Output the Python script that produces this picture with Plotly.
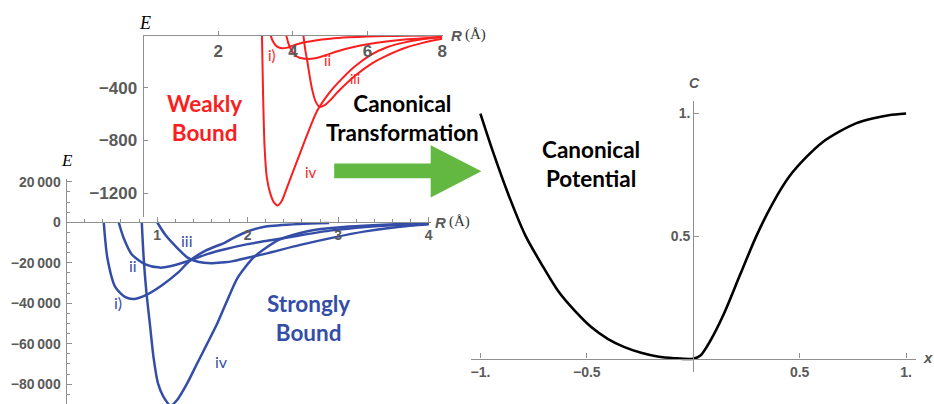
import plotly.graph_objects as go

W, H = 934, 404

# ---------------- data ----------------
# Weakly bound potentials (red): R in Å, E
red_i_R = [3.40, 3.46, 3.53, 3.61, 3.72, 3.85, 4.00, 4.25, 4.60, 5.00, 5.50, 6.00, 6.50, 7.00, 8.00]
red_i_E = [0, -45, -75, -92, -100, -95, -80, -58, -40, -27, -17, -11, -7, -5, -2]
red_ii_R = [3.82, 3.87, 3.94, 4.04, 4.18, 4.38, 4.60, 4.85, 5.20, 5.60, 6.00, 6.50, 7.00, 7.50, 8.00]
red_ii_E = [0, -55, -105, -148, -172, -181, -175, -155, -122, -92, -70, -49, -34, -24, -16]
red_iii_R = [4.28, 4.33, 4.39, 4.46, 4.53, 4.61, 4.71, 4.85, 5.00, 5.20, 5.65, 6.10, 6.50, 7.00, 7.50, 8.00]
red_iii_E = [0, -110, -206, -330, -431, -505, -545, -532, -495, -432, -312, -218, -158, -98, -57, -28]
red_iv_R = [3.17, 3.20, 3.24, 3.30, 3.40, 3.50, 3.59, 3.70, 3.85, 4.12, 4.39, 4.65, 5.00, 5.20, 5.64, 6.09, 6.52, 7.00, 7.50, 8.00]
red_iv_E = [0, -450, -850, -1080, -1210, -1275, -1294, -1260, -1150, -950, -750, -575, -430, -365, -242, -150, -92, -55, -30, -12]

# Strongly bound potentials (blue)
blue_i_R = [0.41, 0.45, 0.54, 0.65, 0.74, 0.87, 1.05, 1.23, 1.36, 1.53, 1.75, 1.84, 2.02, 2.20, 2.57, 2.90]
blue_i_E = [0, -17600, -32200, -37000, -37900, -36100, -31200, -24900, -19000, -14100, -10000, -7800, -4200, -2100, -800, -300]
blue_ii_R = [0.575, 0.63, 0.72, 0.87, 1.03, 1.20, 1.36, 1.56, 1.75, 2.00, 2.20, 2.57, 2.93, 3.30, 3.66, 4.00]
blue_ii_E = [0, -7800, -15900, -20800, -22400, -21100, -18900, -15600, -13300, -10800, -9300, -6500, -4000, -2300, -1300, -700]
blue_iii_R = [1.00, 1.09, 1.20, 1.34, 1.45, 1.60, 1.75, 1.84, 2.00, 2.20, 2.57, 2.93, 3.30, 3.66, 4.00]
blue_iii_E = [0, -6200, -11700, -17600, -19500, -20200, -19800, -19200, -17500, -15500, -11300, -7700, -4500, -2300, -1000]
blue_iv_R = [0.83, 0.85, 0.88, 0.92, 0.96, 1.01, 1.07, 1.15, 1.22, 1.33, 1.44, 1.55, 1.66, 1.77, 1.89, 2.06, 2.20, 2.35, 2.57, 2.75, 3.12, 3.50, 4.00]
blue_iv_E = [0, -17000, -34000, -50400, -66700, -79700, -86200, -90500, -87800, -79700, -69900, -60200, -50400, -39000, -27300, -17600, -12700, -8600, -5400, -3700, -2100, -1200, -500]

# Canonical potential
can_x = [-1.0, -0.944, -0.866, -0.789, -0.711, -0.634, -0.556, -0.478, -0.40, -0.323, -0.245, -0.168, -0.09, 0.0,
         0.034, 0.081, 0.143, 0.22, 0.298, 0.376, 0.453, 0.531, 0.609, 0.686, 0.764, 0.842, 0.919, 1.0]
can_C = [1.0, 0.852, 0.664, 0.503, 0.383, 0.275, 0.195, 0.128, 0.08, 0.047, 0.024, 0.009, 0.002, 0.0,
         0.013, 0.074, 0.181, 0.342, 0.503, 0.638, 0.745, 0.822, 0.884, 0.926, 0.96, 0.98, 0.993, 1.0]

red_xticks = [2, 4, 6, 8]
red_xtext = ["2", "4", "6", "8"]
red_yticks = [-400, -800, -1200]
red_ytext = ["\u2212400", "\u2212800", "\u22121200"]
blue_xticks = [1, 2, 3, 4]
blue_xtext = ["1", "2", "3", "4"]
blue_yticks = [20000, 0, -20000, -40000, -60000, -80000]
blue_ytext = ["20\u2009000", "0", "\u221220\u2009000", "\u221240\u2009000", "\u221260\u2009000", "\u221280\u2009000"]
can_xticks = [-1, -0.5, 0.5, 1]
can_xtext = ["\u22121.", "\u22120.5", "0.5", "1."]
can_yticks = [0.5, 1]
can_ytext = ["0.5", "1."]

RED = "rgb(250,30,30)"
BLUE = "rgb(52,78,168)"
GREEN = "rgb(98,184,64)"
AXC = "#8f8f8f"
TKC = "#5a5a5a"


def fx(p):
    return p / W


def fy(p):
    return 1 - p / H


fig = go.Figure()
for R, E in [(red_i_R, red_i_E), (red_ii_R, red_ii_E), (red_iii_R, red_iii_E), (red_iv_R, red_iv_E)]:
    fig.add_trace(go.Scatter(x=R, y=E, mode="lines", line=dict(color=RED, width=2, shape="spline", smoothing=0.7),
                             xaxis="x", yaxis="y", showlegend=False, hoverinfo="skip"))
for R, E in [(blue_i_R, blue_i_E), (blue_ii_R, blue_ii_E), (blue_iii_R, blue_iii_E), (blue_iv_R, blue_iv_E)]:
    fig.add_trace(go.Scatter(x=R, y=E, mode="lines", line=dict(color=BLUE, width=2.5, shape="spline", smoothing=0.7),
                             xaxis="x2", yaxis="y2", showlegend=False, hoverinfo="skip"))
fig.add_trace(go.Scatter(x=can_x, y=can_C, mode="lines", line=dict(color="black", width=2.6, shape="spline", smoothing=0.8),
                         xaxis="x3", yaxis="y3", showlegend=False, hoverinfo="skip"))

tfont_red = dict(family="Liberation Sans", size=17, color=TKC, weight="bold")
tfont = dict(family="Liberation Sans", size=14, color=TKC, weight="bold")
common = dict(showgrid=False, zeroline=False, showline=True, linecolor=AXC, linewidth=1.3, tickcolor=AXC)

fig.update_layout(
    width=W, height=H, margin=dict(l=0, r=0, t=0, b=0),
    paper_bgcolor="white", plot_bgcolor="rgba(0,0,0,0)",
    xaxis=dict(domain=[fx(143.5), fx(444)], range=[0, 8.013], side="bottom", anchor="free", position=fy(30.5),
               tickvals=red_xticks, ticktext=red_xtext, ticks="inside", ticklen=4,
               tickfont=tfont_red, ticklabelstandoff=0, **common),
    yaxis=dict(domain=[fy(215), fy(30.5)], range=[-1384, 0], anchor="x",
               tickvals=red_yticks, ticktext=red_ytext, ticks="inside", ticklen=4,
               tickfont=tfont_red, ticklabelstandoff=2, **common),
    xaxis2=dict(domain=[fx(66), fx(432)], range=[0, 4.022], anchor="free", position=fy(220),
                tickvals=blue_xticks, ticktext=blue_xtext, ticks="inside", ticklen=5,
                minor=dict(dtick=0.2, tick0=0, ticks="inside", ticklen=3, tickcolor=AXC),
                tickfont=tfont, **common),
    yaxis2=dict(domain=[0, fy(176)], range=[-89760, 21460], anchor="x2",
                tickvals=blue_yticks, ticktext=blue_ytext, ticks="inside", ticklen=5,
                minor=dict(dtick=5000, tick0=0, ticks="inside", ticklen=3, tickcolor=AXC),
                tickfont=tfont, ticklabelstandoff=2, **common),
    xaxis3=dict(domain=[fx(473), fx(920)], range=[-1.042, 1.047], anchor="free", position=fy(358),
                tickvals=can_xticks, ticktext=can_xtext, ticks="inside", ticklen=5,
                tickfont=tfont, **common),
    yaxis3=dict(domain=[fy(372), fy(97)], range=[-0.056, 1.052], anchor="free", position=fx(696),
                tickvals=can_yticks, ticktext=can_ytext, ticks="inside", ticklen=5,
                tickfont=tfont, **common),
)

LABF = "Lato"
ann = []


def label(px_, py_, text, size, color, family=LABF, weight="bold", style="normal", xanchor="center"):
    ann.append(dict(x=fx(px_), y=fy(py_), xref="paper", yref="paper", text=text, showarrow=False,
                    xanchor=xanchor, yanchor="middle",
                    font=dict(family=family, size=size, color=color, weight=weight, style=style)))


label(205, 114, "Weakly<br>Bound", 22.5, RED)
label(309, 317, "Strongly<br>Bound", 22.5, BLUE)
label(404, 114, "Canonical<br>Transformation", 22.5, "black")
label(593, 161, "Canonical<br>Potential", 22.5, "black")

# axis titles
label(145, 18, "E", 18, "black", family="Liberation Serif", weight="normal", style="italic")
label(66, 157, "E", 17, "black", family="Liberation Serif", weight="normal", style="italic")
label(458, 31, "R", 15, TKC, family="Liberation Sans", weight="bold", style="italic")
label(464, 30, "(Å)", 15, "#333", family="Liberation Serif", weight="normal", xanchor="left")
label(442, 220, "R", 15, TKC, family="Liberation Sans", weight="bold", style="italic")
label(448, 219, "(Å)", 15, "#333", family="Liberation Serif", weight="normal", xanchor="left")
label(697, 79, "C", 14, TKC, family="Liberation Sans", weight="bold", style="italic")
label(925, 357, "x", 15, TKC, family="Liberation Sans", weight="bold", style="italic", xanchor="left")

# curve labels in data coordinates
red_lab = [("i)", 3.45, -150, 15), ("ii", 4.92, -190, 15), ("iii", 5.66, -330, 14), ("iv", 4.49, -1040, 15)]
for t, R, E, s in red_lab:
    ann.append(dict(x=R, y=E, xref="x", yref="y", text=t, showarrow=False,
                    font=dict(family=LABF, size=s, color=RED)))
blue_lab = [("i)", 0.571, -39500), ("ii", 0.736, -21500), ("iii", 1.33, -8800), ("iv", 1.714, -69000)]
for t, R, E in blue_lab:
    ann.append(dict(x=R, y=E, xref="x2", yref="y2", text=t, showarrow=False,
                    font=dict(family=LABF, size=16, color=BLUE)))

fig.update_layout(annotations=ann)

# green arrow
pts = [(335, 160.5), (432, 160.5), (432, 142), (483, 168.3), (432, 195), (432, 175.5), (335, 175.5)]
path = "M " + " L ".join(f"{fx(a):.5f},{fy(b):.5f}" for a, b in pts) + " Z"
fig.add_shape(type="path", path=path, xref="paper", yref="paper", fillcolor=GREEN, line=dict(width=0))

fig.write_html("out.html", config={"displayModeBar": False},
               post_script="document.body.style.margin='0';document.body.style.overflow='hidden';")
